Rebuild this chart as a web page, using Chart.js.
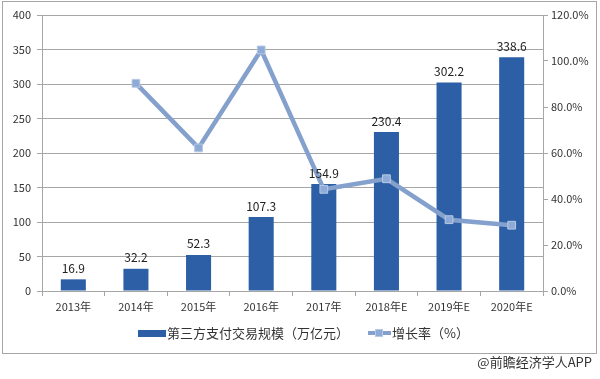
<!DOCTYPE html>
<html><head><meta charset="utf-8">
<script src="https://cdn.jsdelivr.net/npm/chart.js@4/dist/chart.umd.min.js"></script>
<style>
html,body{margin:0;padding:0;background:#fff;}
#wrap{position:relative;width:600px;height:379px;overflow:hidden;font-family:"Noto Sans CJK SC","Liberation Sans",sans-serif;color:#333;}
#frame{position:absolute;left:2px;top:1px;width:595px;height:353px;border:1px solid #a6a6a6;box-sizing:border-box;}
#c{position:absolute;left:0;top:0;}
.lg{position:absolute;font-size:13px;line-height:16px;white-space:nowrap;color:#333;}
#box1{position:absolute;left:138px;top:330px;width:28px;height:7px;background:#2c5fa5;}
#ln{position:absolute;left:368px;top:331px;width:23px;height:4px;background:#84a0cd;}
#sq{position:absolute;left:375px;top:329px;width:8px;height:8px;background:#8eaad6;border:1px solid #b8c9e4;box-sizing:border-box;}
#src{position:absolute;right:8px;top:354px;font-size:13px;line-height:16px;color:#333;}
</style></head>
<body>
<div id="wrap">
  <div id="frame"></div>
  <canvas id="c" width="600" height="379"></canvas>
  <div id="box1"></div>
  <div class="lg" style="left:167px;top:325px;">第三方支付交易规模（万亿元）</div>
  <div id="ln"></div><div id="sq"></div>
  <div class="lg" style="left:392px;top:325px;">增长率（%）</div>
  <div id="src">@前瞻经济学人APP</div>
</div>
<script>
const categories = ["2013年","2014年","2015年","2016年","2017年","2018年E","2019年E","2020年E"];
const scaleValues = [16.9, 32.2, 52.3, 107.3, 154.9, 230.4, 302.2, 338.6];
const growthRate = [null, 90.3, 62.2, 104.8, 44.2, 48.8, 31.0, 28.6];
const leftTicks = {min:0, max:400, step:50};
const rightTicks = {min:0, max:120, step:20};

const gridColor = '#a6a6a6';
const tickFont = {family:'"Noto Sans CJK SC","Liberation Sans",sans-serif', size:11};

const barLabels = {
  id:'barLabels',
  afterDatasetsDraw(chart){
    const ctx = chart.ctx;
    const meta = chart.getDatasetMeta(0);
    ctx.save();
    ctx.font = '12px "Noto Sans CJK SC","Liberation Sans",sans-serif';
    ctx.fillStyle = '#222';
    ctx.textAlign = 'center';
    ctx.textBaseline = 'bottom';
    meta.data.forEach((el,i)=>{
      ctx.fillText(scaleValues[i].toFixed(1), el.x, el.y - 5);
    });
    ctx.restore();
  }
};

new Chart(document.getElementById('c'), {
  data:{
    labels: categories,
    datasets:[
      {type:'bar', label:'第三方支付交易规模（万亿元）', data: scaleValues, yAxisID:'y',
       backgroundColor:'#2c5fa5', borderWidth:0, barPercentage:0.4, categoryPercentage:1, order:2},
      {type:'line', label:'增长率（%）', data: growthRate, yAxisID:'y1',
       borderColor:'#84a0cd', borderWidth:4.5, pointStyle:'rect', pointRadius:5.5,
       pointBackgroundColor:'#8eaad6', pointBorderColor:'#b8c9e4', pointBorderWidth:1,
       tension:0, spanGaps:false, order:1}
    ]
  },
  options:{
    responsive:false, animation:false, devicePixelRatio:1,
    layout:{padding:{top:15, bottom:64, left:0, right:0}},
    plugins:{legend:{display:false}, tooltip:{enabled:false}},
    scales:{
      x:{offset:true,
         grid:{offset:true, drawOnChartArea:false, color:gridColor, tickLength:5},
         border:{color:gridColor},
         ticks:{font:tickFont, color:'#333', padding:4, maxRotation:0},
         afterFit(s){ s.height = 24; }},
      y:{position:'left', min:leftTicks.min, max:leftTicks.max,
         ticks:{stepSize:leftTicks.step, font:tickFont, color:'#333', padding:6},
         grid:{color:gridColor, tickLength:5},
         border:{color:gridColor},
         afterFit(s){ s.width = 42; }},
      y1:{position:'right', min:rightTicks.min, max:rightTicks.max,
         ticks:{stepSize:rightTicks.step, font:tickFont, color:'#333', padding:3,
                callback:v=>v.toFixed(1)+'%'},
         grid:{drawOnChartArea:false, color:gridColor, tickLength:5},
         border:{color:gridColor},
         afterFit(s){ s.width = 57; }}
    }
  },
  plugins:[barLabels]
});
</script>
</body></html>
